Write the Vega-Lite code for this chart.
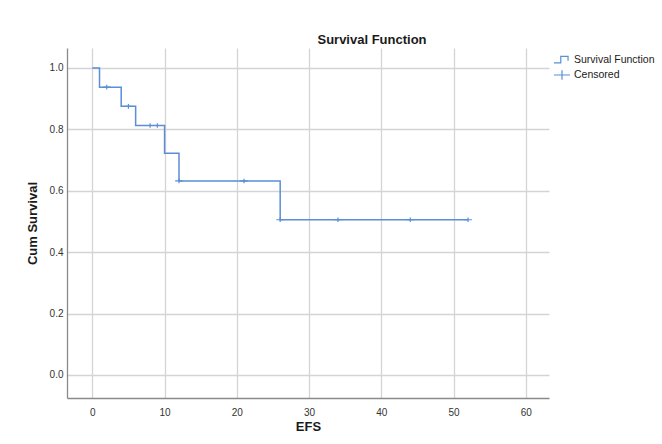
{
  "$schema": "https://vega.github.io/schema/vega-lite/v6.json",
  "autosize": {"type": "none"},
  "padding": {"left": 67, "top": 48, "right": 113, "bottom": 46},
  "width": 482,
  "height": 350,
  "background": "white",
  "title": {
    "text": "Survival Function",
    "anchor": "middle",
    "frame": "group",
    "dx": 64,
    "offset": 1,
    "font": "Liberation Sans",
    "fontSize": 13,
    "fontWeight": "bold",
    "color": "#1a1a1a"
  },
  "config": {
    "view": {"stroke": null},
    "axis": {
      "labelFont": "Liberation Sans",
      "labelFontSize": 10,
      "labelColor": "#333333",
      "titleFont": "Liberation Sans",
      "titleFontSize": 13,
      "titleFontWeight": "bold",
      "titleColor": "#1a1a1a",
      "gridColor": "#d4d4d4",
      "gridWidth": 1.3,
      "domainColor": "#8a8a8a",
      "domainWidth": 1.3,
      "tickSize": 0
    }
  },
  "datasets": {
    "curve": [
      {"time": 0, "surv": 1.0},
      {"time": 1, "surv": 0.9375},
      {"time": 4, "surv": 0.875},
      {"time": 6, "surv": 0.8125},
      {"time": 10, "surv": 0.7222},
      {"time": 12, "surv": 0.6319},
      {"time": 26, "surv": 0.5056},
      {"time": 52, "surv": 0.5056}
    ],
    "censored": [
      {"time": 2, "surv": 0.9375, "series": "Censored"},
      {"time": 5, "surv": 0.875, "series": "Censored"},
      {"time": 8, "surv": 0.8125, "series": "Censored"},
      {"time": 9, "surv": 0.8125, "series": "Censored"},
      {"time": 12, "surv": 0.6319, "series": "Censored"},
      {"time": 21, "surv": 0.6319, "series": "Censored"},
      {"time": 26, "surv": 0.5056, "series": "Censored"},
      {"time": 34, "surv": 0.5056, "series": "Censored"},
      {"time": 44, "surv": 0.5056, "series": "Censored"},
      {"time": 52, "surv": 0.5056, "series": "Censored"}
    ]
  },
  "layer": [
    {
      "data": {"name": "curve"},
      "mark": {"type": "line", "interpolate": "step-after", "color": "#5b8ed6", "strokeWidth": 1.5},
      "encoding": {
        "x": {
          "field": "time", "type": "quantitative", "title": "EFS",
          "scale": {"domain": [-3.5, 63.2], "nice": false, "zero": false},
          "axis": {"values": [0, 10, 20, 30, 40, 50, 60], "labelPadding": 9, "titlePadding": 3}
        },
        "y": {
          "field": "surv", "type": "quantitative", "title": "Cum Survival",
          "scale": {"domain": [-0.075, 1.065], "nice": false, "zero": false},
          "axis": {"values": [0, 0.2, 0.4, 0.6, 0.8, 1.0], "format": ".1f", "labelPadding": 4, "titlePadding": 10}
        }
      }
    },
    {
      "data": {"name": "censored"},
      "mark": {"type": "point", "filled": false, "color": "#5b8ed6", "strokeWidth": 1.2, "size": 60, "opacity": 1},
      "encoding": {
        "x": {"field": "time", "type": "quantitative"},
        "y": {"field": "surv", "type": "quantitative"},
        "shape": {
          "field": "series", "type": "nominal",
          "scale": {
            "domain": ["Survival Function", "Censored"],
            "range": ["M-1,0.35H-0.15V-0.45H0.75V0.1", "M-1,0H1M0,-0.6V0.6"]
          },
          "legend": {
            "title": null,
            "orient": "none",
            "legendX": 486,
            "legendY": 3,
            "symbolSize": 260,
            "symbolStrokeColor": "#5b8ed6",
            "symbolFillColor": "transparent",
            "symbolStrokeWidth": 1.2,
            "labelFont": "Liberation Sans",
            "labelFontSize": 10.5,
            "labelColor": "#1a1a1a",
            "rowPadding": 0,
            "labelOffset": 3
          }
        }
      }
    }
  ]
}
